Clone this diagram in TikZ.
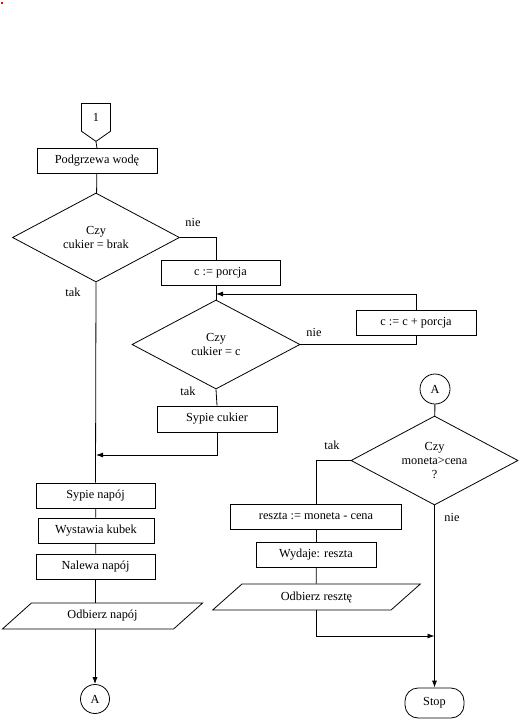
\documentclass[tikz,border=0pt]{standalone}
\usepackage{fontspec}
\setmainfont{Liberation Serif}
\usetikzlibrary{shapes.geometric,shapes.symbols,arrows.meta}

\tikzset{
	tekst/.style={font=\fontsize{12.3}{14}\selectfont, align=center},
	blok/.style={tekst, draw, rectangle, inner sep=0pt, minimum height=25pt},
	pytanie/.style={tekst, draw, diamond, aspect=1.9, inner sep=0pt, minimum width=167pt, minimum height=89pt},
	dane/.style={tekst, draw, trapezium, trapezium left angle=38, trapezium right angle=142, trapezium stretches=true, inner sep=0pt, minimum height=26pt},
	laczn/.style={tekst, draw, circle, inner sep=0pt, minimum size=29pt},
	etykieta/.style={tekst},
}

\begin{document}
\begin{tikzpicture}[x=1pt,y=-1pt,line width=0.8pt,>={Latex[length=7pt,width=5pt]}]
	\useasboundingbox (0,0) rectangle (522,720);
	\fill[red] (1,2) rectangle (3,4);
	% lewa kolumna
	\node[tekst, draw, signal, signal to=south, signal from=nowhere, signal pointer angle=110, inner sep=0pt, minimum width=29pt, minimum height=30pt, anchor=north] (start) at (96,103) {1};
	\node[blok, minimum width=120pt] (wode) at (97,161) {Podgrzewa wodę};
	\node[pytanie] (d1) at (96,237.5) {Czy\\cukier = brak};
	\node[blok, minimum width=119pt] (porcja) at (220.5,273) {c := porcja};
	\node[pytanie, minimum width=168pt] (d2) at (216,344.5) {Czy\\cukier = c};
	\node[blok, minimum width=120pt] (plus) at (416,322.5) {c := c + porcja};
	\node[blok, minimum width=120pt, minimum height=26pt] (cukier) at (217,419) {Sypie cukier};
	\node[blok, minimum width=119pt] (napoj) at (95.5,495.5) {Sypie napój};
	\node[blok, minimum width=116pt] (kubek) at (96,530.5) {Wystawia kubek};
	\node[blok, minimum width=119pt] (nalewa) at (95.5,566.5) {Nalewa napój};
	\node[dane, minimum width=201pt] (odbierz) at (102.5,616) {Odbierz napój};
	\node[laczn] (a1) at (95,699) {A};
	% prawa kolumna
	\node[laczn, minimum size=30pt] (a2) at (435,389) {A};
	\node[pytanie] (d3) at (434.5,460.5) {Czy\\moneta>cena\\?};
	\node[blok, minimum width=171pt] (reszta) at (316,516.5) {reszta := moneta - cena};
	\node[blok, minimum width=120pt] (wydaje) at (316,554.5) {Wydaje: reszta};
	\node[dane, minimum width=209pt] (odbreszta) at (316.5,597) {Odbierz resztę};
	\node[tekst, draw, rectangle, rounded corners=13pt, inner sep=0pt, minimum width=59pt, minimum height=30pt] (stop) at (434.5,703) {Stop};
	% etykiety
	\node[etykieta] (nie1) at (193,222) {nie};
	\node[etykieta] (tak1) at (73,292) {tak};
	\node[etykieta] (nie2) at (314,332) {nie};
	\node[etykieta] (tak2) at (188,391) {tak};
	\node[etykieta] (tak3) at (332,445) {tak};
	\node[etykieta] (nie3) at (452,517) {nie};
	\coordinate (petla) at (216,294);
	\coordinate (zbieg) at (96,455);
	\coordinate (koniec) at (434.5,636);
	% polaczenia
	\draw (start.south) -- (wode.north);
	\draw (wode) -- (d1);
	\draw (d1.east) -| (d2.north |- porcja.north);
	\draw (d2.north |- porcja.south) -- (d2.north);
	\draw (d2.east) -| (plus.south);
	\draw[->] (plus.north) |- (petla);
	\draw (d2.south) -- (cukier.north);
	\draw[->] (cukier.south) |- (zbieg);
	\draw (d1.south) -- (napoj.north);
	\draw (napoj) -- (kubek);
	\draw (kubek) -- (nalewa);
	\draw (nalewa.south) -- (nalewa.south |- odbierz.north);
	\draw[->] (a1 |- odbierz.south) -- (a1.north);
	\draw (a2) -- (d3);
	\draw (d3.west) -| (reszta.north);
	\draw (reszta) -- (wydaje);
	\draw (wydaje) -- (odbreszta);
	\draw[->] (odbreszta.south) |- (koniec);
	\draw[->] (d3.south) -- (stop.north);
\end{tikzpicture}
\end{document}
